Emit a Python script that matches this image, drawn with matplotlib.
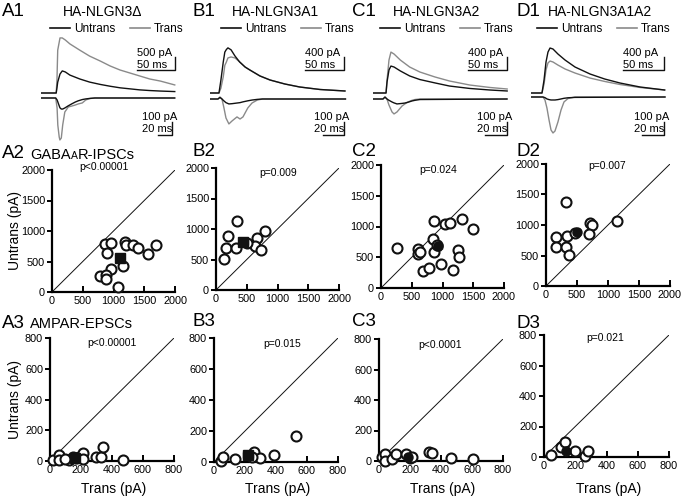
import matplotlib.pyplot as plt
from matplotlib.lines import Line2D

plt.rcParams['font.family'] = ['Liberation Sans', 'DejaVu Sans']

W, H = 683, 497
fig = plt.figure(figsize=(W / 100, H / 100), dpi=100)

BLACK = '#111111'
GREY = '#8a8a8a'

# ---------------- example traces (ms, pA) ----------------
a1_ipsc_t = [0, 20, 21, 22, 25, 28, 32, 38, 51, 64, 78, 91, 104, 117, 130, 143, 157, 176]
a1_ipsc_trans = [0, 0, 500, 1650, 2120, 2120, 2040, 1890, 1650, 1420, 1230, 1040, 885, 770, 655, 540, 460, 310]
a1_ipsc_untrans = [0, 0, 200, 420, 730, 850, 810, 690, 540, 420, 330, 260, 200, 160, 120, 95, 75, 55]
a1_epsc_t = [0, 21, 23, 24, 26, 27, 29, 31, 34, 39, 44, 49, 53, 59, 64, 70, 77, 191]
a1_epsc_trans = [0, 0, -77, -208, -300, -323, -308, -208, -108, -69, -62, -54, -46, -38, -15, -4, 0, 0]
a1_epsc_untrans = [0, 0, -15, -30, -60, -75, -85, -85, -77, -60, -45, -31, -22, -12, -7, -3, 0, 0]

b1_ipsc_t = [0, 11.5, 14, 17, 19, 21, 23, 27, 32, 38, 45, 51, 64, 77, 96, 115, 141, 173]
b1_ipsc_untrans = [0, 0, 400, 955, 1260, 1340, 1390, 1330, 1140, 955, 800, 710, 525, 400, 277, 185, 108, 62]
b1_ipsc_trans = [0, 0, 150, 500, 850, 955, 1080, 1110, 1080, 960, 800, 710, 525, 400, 277, 185, 108, 62]
b1_epsc_t = [0, 7.6, 9.5, 11.4, 13.3, 15.2, 18, 21, 25.7, 28.6, 31.4, 36, 40, 45, 50, 129]
b1_epsc_trans = [0, 0, 15, 0, -69, -146, -192, -169, -138, -154, -138, -69, -31, -8, 0, 0]
b1_epsc_untrans = [0, 0, 12, 0, -15, -28, -38, -36, -31, -28, -22, -14, -8, -3, 0, 0]

c1_ipsc_t = [0, 16.7, 18, 20.5, 23, 27, 35, 47, 60, 79.5, 98, 124, 150, 172]
c1_ipsc_trans = [0, 0, 400, 1016, 1260, 1200, 1016, 800, 647, 493, 370, 246, 170, 123]
c1_ipsc_untrans = [0, 0, 340, 710, 830, 800, 680, 525, 415, 310, 215, 140, 92, 62]
c1_epsc_t = [0, 9.1, 10.9, 12.7, 14.5, 17.3, 19.1, 21.8, 26.4, 29, 31.8, 35.5, 38.2, 42.7, 121.8]
c1_epsc_trans = [0, 0, 15, 0, -46, -100, -115, -100, -54, -38, -23, -10, -4, 0, 0]
c1_epsc_untrans = [0, 0, 15, 0, -10, -23, -30, -38, -34, -31, -25, -15, -10, -4, 0]

d1_ipsc_t = [0, 13.4, 15.9, 18.3, 20.7, 23.2, 26.8, 32.9, 41.5, 53.7, 72, 90, 108.5, 133, 163]
d1_ipsc_untrans = [0, 0, 400, 955, 1260, 1385, 1355, 1200, 1016, 800, 585, 430, 308, 185, 92]
d1_ipsc_trans = [0, 0, 277, 710, 925, 985, 955, 860, 740, 615, 460, 355, 262, 170, 92]
d1_epsc_t = [0, 10.9, 12.7, 14.5, 16.4, 18.2, 20, 21.8, 24.5, 27.3, 30, 33.6, 40, 121.8]
d1_epsc_trans = [0, 0, -23, -85, -177, -254, -277, -262, -192, -100, -38, -12, 0, 0]
d1_epsc_untrans = [0, 0, -5, -15, -20, -23, -23, -23, -20, -15, -10, -6, -3, 0]

titles = ['HA-NLGN3\u0394', 'HA-NLGN3A1', 'HA-NLGN3A2', 'HA-NLGN3A1A2']
ipsc_bars = ['500 pA', '400 pA', '400 pA', '400 pA']

# ---------------- scatter data (Trans, Untrans) in pA ----------------
a2_trans = [855, 963, 893, 1179, 1201, 1325, 1396, 1693, 1558, 963, 1152, 784, 882, 882, 1071]
a2_untrans = [795, 805, 641, 822, 778, 778, 729, 778, 619, 384, 422, 258, 274, 219, 82]
b2_trans = [335, 189, 162, 135, 319, 660, 633, 730, 795, 498]
b2_untrans = [1123, 888, 685, 504, 685, 849, 723, 658, 975, 778]
c2_trans = [260, 600, 600, 628, 682, 774, 844, 855, 855, 974, 1044, 1125, 1315, 1504, 1244, 1261, 1169, 909]
c2_untrans = [657, 641, 559, 586, 272, 331, 804, 1091, 586, 386, 1037, 1059, 1129, 956, 614, 505, 288, 695]
d2_trans = [323, 156, 156, 334, 323, 371, 710, 737, 699, 1151, 468]
d2_untrans = [1381, 797, 633, 819, 644, 508, 1026, 999, 846, 1065, 874]

a3_trans = [17, 58, 60, 125, 146, 168, 189, 211, 211, 297, 327, 340, 469, 97]
a3_untrans = [5, 41, 4, 9, 26, 22, 26, 52, 15, 26, 26, 92, 5, 15]
b3_trans = [43, 58, 133, 256, 294, 385, 527, 245]
b3_untrans = [6, 32, 22, 65, 26, 48, 166, 35]
c3_trans = [22, 37, 37, 86, 112, 173, 199, 210, 324, 339, 464, 605]
c3_untrans = [28, 46, 2, 11, 44, 46, 22, 24, 57, 50, 18, 13]
d3_trans = [47, 111, 136, 196, 260, 281]
d3_untrans = [15, 65, 96, 37, 9, 37]

# mean +/- sem (trans, untrans, trans_err, untrans_err)
means2 = [(1109, 559, 60, 50), (444, 784, 70, 35), (925, 684, 60, 60), (495, 890, 60, 45)]
means3 = [(161, 20, 20, 8), (219, 43, 35, 10), (188, 28, 20, 8), (143, 37, 15, 10)]
p2 = ['p<0.00001', 'p=0.009', 'p=0.024', 'p=0.007']
p3 = ['p<0.00001', 'p=0.015', 'p<0.0001', 'p=0.021']


def px_axes(x0, y0, x1, y1):
    return fig.add_axes([x0 / W, 1 - y1 / H, (x1 - x0) / W, (y1 - y0) / H])


def ftext(x, y, s, size, **kw):
    kw.setdefault('va', 'center')
    return fig.text(x / W, 1 - y / H, s, fontsize=size, **kw)


# ---------------- row 1: traces ----------------
trace_sets = [
    (a1_ipsc_t, a1_ipsc_untrans, a1_ipsc_trans, a1_epsc_t, a1_epsc_untrans, a1_epsc_trans),
    (b1_ipsc_t, b1_ipsc_untrans, b1_ipsc_trans, b1_epsc_t, b1_epsc_untrans, b1_epsc_trans),
    (c1_ipsc_t, c1_ipsc_untrans, c1_ipsc_trans, c1_epsc_t, c1_epsc_untrans, c1_epsc_trans),
    (d1_ipsc_t, d1_ipsc_untrans, d1_ipsc_trans, d1_epsc_t, d1_epsc_untrans, d1_epsc_trans),
]
# layout: x0 px, ipsc (px/ms, pA/px, base px, scale pA), epsc (px/ms, pA/px, base px), bar x px
geo = [
    (41, (0.76, 38.5, 93, 500), (0.70, 7.7, 98), 175, 172),
    (210, (0.78, 30.8, 93, 400), (1.05, 7.7, 99), 344, 344),
    (373, (0.78, 30.8, 93, 400), (1.10, 7.7, 99), 507, 507),
    (531, (0.82, 30.8, 93, 400), (1.10, 7.7, 97), 664, 664),
]
label_x = [2, 192, 352, 517]
title_x = [63, 232, 393, 548]
legend_x = [50, 221, 380, 537]

for i in range(4):
    it, iu, itr, et, eu, etr = trace_sets[i]
    x0, (ims, ipa, ibase, iscale), (ems, epa, ebase), ibx, ebx = geo[i]
    top, bot, span = 20, 150, 150

    ax = px_axes(x0, top, x0 + span, bot)
    ax.set_xlim(0, span / ims)
    ax.set_ylim(-(bot - ibase) * ipa, (ibase - top) * ipa)
    ax.plot(it, itr, color=GREY, lw=1.0)
    ax.plot(it, iu, color=BLACK, lw=1.0)
    bx = (ibx - x0) / ims
    by = (ibase - 70) * ipa
    ax.plot([bx - 50, bx, bx], [by, by, by + iscale], color=BLACK, lw=1.0)
    ax.text(bx - 50, by + 0.5 * ipa, '50 ms', fontsize=8, va='bottom', ha='left')
    ax.text(bx - 50, by + 12.5 * ipa, ipsc_bars[i], fontsize=8, va='bottom', ha='left')
    ax.axis('off')

    ax2 = px_axes(x0, top, x0 + span, bot)
    ax2.set_xlim(0, span / ems)
    ax2.set_ylim(-(bot - ebase) * epa, (ebase - top) * epa)
    ax2.plot(et, etr, color=GREY, lw=1.0)
    ax2.plot(et, eu, color=BLACK, lw=1.0)
    bx = (ebx - x0) / ems
    by = -(135 - ebase) * epa
    ax2.plot([bx - 20, bx, bx], [by, by, by + 100], color=BLACK, lw=1.0)
    tx = bx - 30 / ems
    ax2.text(tx, by + 0.5 * epa, '20 ms', fontsize=8, va='bottom', ha='left')
    ax2.text(tx, by + 12.5 * epa, '100 pA', fontsize=8, va='bottom', ha='left')
    ax2.axis('off')

    handles = [Line2D([], [], color=BLACK, lw=1.2), Line2D([], [], color=GREY, lw=1.2)]
    fig.legend(handles, ['Untrans', 'Trans'], loc='center left',
               bbox_to_anchor=(legend_x[i] / W, 1 - 29 / H), ncol=2, frameon=False,
               fontsize=8.5, handlelength=1.7, handletextpad=0.35, columnspacing=1.2,
               borderpad=0, borderaxespad=0)

    ftext(label_x[i], 12, '%s1' % 'ABCD'[i], 13.5)
    ftext(title_x[i], 12, titles[i], 10)

# ---------------- rows 2 and 3: scatter ----------------
rows = [
    dict(rects=[(52, 170, 175, 292), (216, 168, 339, 290), (381, 165, 504, 288), (546, 164, 670, 286)],
         data=[(a2_trans, a2_untrans), (b2_trans, b2_untrans), (c2_trans, c2_untrans), (d2_trans, d2_untrans)],
         lim=2000, ticks=[0, 500, 1000, 1500, 2000], means=means2, p=p2,
         ppos=[(104, 167), (278, 173), (438, 170), (607, 166)]),
    dict(rects=[(50, 338, 174, 461), (214, 338, 338, 462), (379, 339, 503, 461), (544, 335, 669, 457)],
         data=[(a3_trans, a3_untrans), (b3_trans, b3_untrans), (c3_trans, c3_untrans), (d3_trans, d3_untrans)],
         lim=800, ticks=[0, 200, 400, 600, 800], means=means3, p=p3,
         ppos=[(112, 343), (282, 344), (440, 345), (605, 338)]),
]
mean_markers = ['s', 's', 'o', 'o']

for r, row in enumerate(rows):
    for i in range(4):
        x0, y0, x1, y1 = row['rects'][i]
        ax = px_axes(x0, y0, x1, y1)
        lim = row['lim']
        tr, un = row['data'][i]
        ax.plot([0, lim], [0, lim], color=BLACK, lw=0.7)
        ax.plot(tr, un, 'o', mfc='white', mec=BLACK, mew=1.5, ms=7.2, clip_on=False, zorder=3)
        mx, my, ex, ey = row['means'][i]
        ax.errorbar(mx, my, xerr=ex, yerr=ey, fmt=mean_markers[i], color=BLACK, ms=6.5,
                    elinewidth=1.0, capsize=2, clip_on=False, zorder=4)
        ax.set_xlim(0, lim)
        ax.set_ylim(0, lim)
        ax.set_xticks(row['ticks'])
        ax.set_yticks(row['ticks'])
        for s in ['top', 'right']:
            ax.spines[s].set_visible(False)
        for s in ['left', 'bottom']:
            ax.spines[s].set_linewidth(1.6)
        ax.tick_params(axis='x', direction='in', length=4.5, width=1.4, labelsize=7.8, pad=3)
        ax.tick_params(axis='y', direction='out', length=3.5, width=1.4, labelsize=7.8, pad=1.5)
        px, py = row['ppos'][i]
        ftext(px, py, row['p'][i], 7.5, ha='center')
        if i == 0:
            ftext(15, (y0 + y1) / 2, 'Untrans (pA)', 10, ha='center', rotation=90)
        if r == 1:
            ftext((x0 + x1) / 2 + 2, 489, 'Trans (pA)', 10, ha='center')

# row labels
ftext(2, 154, 'A2', 13.5)
t = ftext(30, 155, 'GABA', 10.5)
a = plt.annotate('A', xy=(1, 0.1), xycoords=t, fontsize=7.5, va='bottom', ha='left',
                 annotation_clip=False)
plt.annotate('R-IPSCs', xy=(1, -0.1), xycoords=a, fontsize=10.5, va='bottom', ha='left',
             annotation_clip=False)
ftext(192, 151, 'B2', 13.5)
ftext(352, 152, 'C2', 13.5)
ftext(517, 152, 'D2', 13.5)

ftext(2, 323, 'A3', 13.5)
ftext(30, 324, 'AMPAR-EPSCs', 10.5)
ftext(192, 321, 'B3', 13.5)
ftext(352, 321, 'C3', 13.5)
ftext(517, 323, 'D3', 13.5)

fig.savefig('out.png', dpi=100)
